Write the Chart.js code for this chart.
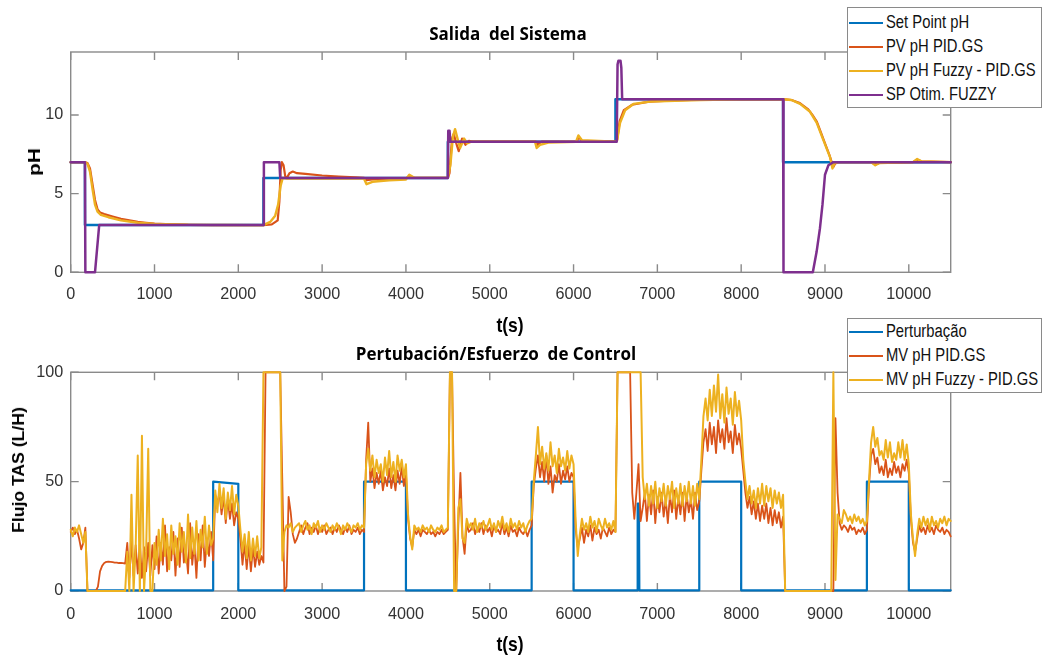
<!DOCTYPE html>
<html>
<head>
<meta charset="utf-8">
<script src="https://cdn.jsdelivr.net/npm/chart.js@4.4.1/dist/chart.umd.min.js"></script>
<style>
  html, body { margin: 0; padding: 0; background: #fff; }
  #wrap { position: relative; width: 1046px; height: 657px; overflow: hidden; background: #fff; }
  canvas { position: absolute; left: 0; }
  .txt { position: absolute; white-space: pre; line-height: 1; color: #000; }
  .title { font-family: 'Open Sans', sans-serif; font-weight: 700; font-size: 17px; }
  .axlab { font-family: 'Liberation Sans', Arial, sans-serif; font-weight: 700; }
  .legend { position: absolute; box-sizing: border-box; border: 1px solid #8a8a8a; background: #fff;
            font-family: 'Liberation Sans', Arial, sans-serif; font-size: 14.8px; color: #111; }
  .legend .row { position: absolute; left: 0; height: 0; }
  .legend .ln { position: absolute; left: 1px; width: 34px; height: 2px; top: -1px; }
  .legend .lt { position: absolute; left: 38px; top: 0; transform: translateY(-50%) scaleY(1.18); white-space: pre; line-height: 1; }
</style>
</head>
<body>
<div id="wrap">
  <canvas id="c1" width="1046" height="330" style="top:0px"></canvas>
  <canvas id="c2" width="1046" height="327" style="top:330px"></canvas>

  <div class="txt title" style="left:508px;top:33px;transform:translate(-50%,-50%)">Salida  del Sistema</div>
  <div class="txt title" style="left:496px;top:353px;transform:translate(-50%,-50%)">Pertubación/Esfuerzo  de Control</div>

  <div class="txt axlab" style="left:510px;top:326px;font-size:17.5px;transform:translate(-50%,-50%) scaleY(1.15)">t(s)</div>
  <div class="txt axlab" style="left:510px;top:645px;font-size:17.5px;transform:translate(-50%,-50%) scaleY(1.15)">t(s)</div>
  <div class="txt axlab" style="left:35px;top:162px;font-size:16px;transform:translate(-50%,-50%) rotate(-90deg) scaleX(1.3)">pH</div>
  <div class="txt axlab" style="left:19px;top:470px;font-size:16px;transform:translate(-50%,-50%) rotate(-90deg) scaleX(1.1)">Flujo TAS (L/H)</div>

  <div id="leg1" class="legend" style="left:847px;top:7px;width:195px;height:101px"></div>
  <div id="leg2" class="legend" style="left:847px;top:318px;width:195px;height:75px"></div>
</div>

<script>
// ---------------- Axis ticks ----------------
const xTickValues = [0, 1000, 2000, 3000, 4000, 5000, 6000, 7000, 8000, 9000, 10000];
const phTickValues = [0, 5, 10];
const flowTickValues = [0, 50, 100];

// ---------------- Top plot: pH ----------------
const spTime  = [0, 170, 170, 2300, 2300, 4500, 4500, 6500, 6500, 8500, 8500, 10500];
const spValue = [7, 7, 3, 3, 6, 6, 8.3, 8.3, 11, 11, 7, 7];

const pvPidTime = [0,170,200,230,260,290,320,350,400,500,600,700,800,900,1000,1200,1400,1700,2300,2400,
  2470,2490,2505,2520,2540,2560,2580,2610,2650,2700,2800,3000,3200,3400,3500,3530,3600,3800,4000,4050,
  4100,4500,4520,4550,4570,4600,4630,4670,4710,4750,4800,5550,5570,5620,6040,6060,6100,6500,6520,6550,
  6600,6700,6900,7200,7600,8500,8600,8700,8800,8850,8900,8950,9000,9050,9080,9100,9120,9150,9550,9600,
  9650,10050,10100,10150,10500];
const pvPidValue = [7,7,6.95,6.6,5.6,4.6,4.0,3.8,3.7,3.55,3.4,3.3,3.2,3.15,3.1,3.05,3.02,3.0,3.0,3.05,
  3.3,4.5,6.5,7.0,6.8,6.1,6.0,6.3,6.4,6.3,6.25,6.15,6.08,6.03,6.0,5.85,5.9,5.95,5.98,6.1,
  6.0,6.0,6.3,8.5,8.8,8.2,7.7,8.5,8.1,8.35,8.3,8.3,8.1,8.3,8.3,8.6,8.35,8.3,8.4,9.6,
  10.3,10.65,10.85,10.93,10.98,11,10.95,10.75,10.35,10.0,9.6,8.9,8.2,7.5,7.0,6.7,6.9,7.0,7.0,6.85,
  6.95,7.0,7.15,7.05,7.0];

const pvFuzzyTime = [0,170,200,230,260,290,320,360,450,600,800,1000,1400,2300,2380,2440,2475,2505,2530,2580,
  3500,3530,3600,3800,4000,4040,4100,4500,4530,4560,4586,4620,4646,4694,4730,4780,5540,5560,5600,5700,
  6030,6058,6100,6500,6520,6555,6615,6714,6913,7510,8000,8500,8600,8703,8822,8902,8981,9061,9090,9110,
  9150,9550,9600,9650,10050,10100,10150,10500];
const pvFuzzyValue = [7,7,6.9,6.4,5.3,4.3,3.85,3.65,3.5,3.3,3.15,3.08,3.02,3.0,3.2,3.6,4.3,5.5,6.0,5.95,
  5.95,5.6,5.75,5.85,5.9,6.2,6.0,6.0,6.8,8.6,9.1,8.4,7.9,8.5,8.2,8.3,8.3,7.9,8.1,8.25,
  8.3,8.7,8.4,8.3,8.4,9.5,10.3,10.7,10.85,10.95,11.0,11.0,10.95,10.7,10.2,9.5,8.4,7.3,6.6,6.9,
  7.0,7.0,6.8,6.95,7.0,7.2,7.05,7.0];

const spOtimTime  = [0,170,175,290,340,2300,2305,2490,2500,4500,4505,4520,4530,6515,6525,6535,6560,6570,6580,
  8500,8505,8855,8900,8940,8970,9000,9040,9100,10500];
const spOtimValue = [7,7,0,0,3,3,7,7,6,6,9,9,8.3,8.3,13.2,13.45,13.45,13.0,11,
  11,0,0,1.3,2.8,4.3,6.2,6.8,7,7];

// ---------------- Bottom plot: flow ----------------
const pertTime  = [0,1700,1700,2000,2000,3500,3500,4000,4000,5500,5500,6000,6000,6760,6765,6780,6785,
  7500,7500,8000,8000,9500,9500,10000,10000,10500];
const pertValue = [0.3,0.3,50,49,0.3,0.3,50,50,0.3,0.3,50,50,0.3,0.3,40,40,0.3,
  0.3,50,50,0.3,0.3,50,50,0.3,0.3];

// MV samples every 25 s, from t = 0 to t = 10500 (rows of 250 s)
const mvSampleStep = 25;
const mvPid = [
  27, 29, 26, 28, 24, 19, 22, 29, 0, 0,              // 0
  0, 0, 0, 2, 9, 11.5, 12.8, 13.3, 13.4, 13.3,       // 250
  13.2, 13, 13, 12.8, 12.8, 12.7, 12.5, 22, 6, 23,   // 500
  7, 21, 8, 22, 6, 20, 9, 22, 7, 21,                 // 750
  10, 25, 8, 22, 12, 30, 9, 20, 14, 27,              // 1000
  7, 24, 11, 29, 13, 19, 8, 31, 12, 22,              // 1250
  6, 26, 14, 30, 11, 24, 16, 27, 14, 44,             // 1500
  40, 45, 35, 43, 31, 42, 33, 40, 30, 36,            // 1750
  33, 24, 12, 22, 10, 21, 9, 20, 11, 18,             // 2000
  12, 16, 13, 100, 100, 100, 100, 100, 100, 100,     // 2250
  100, 50, 0, 2, 43, 36, 26, 22, 24, 27,             // 2500
  30, 26, 29, 31, 26, 29, 27, 30, 26, 29,            // 2750
  27, 30, 26, 28, 29, 26, 29, 27, 30, 28,            // 3000
  26, 29, 27, 30, 26, 28, 27, 29, 26, 28,            // 3250
  27, 60, 77, 50, 56, 47, 54, 49, 55, 46,            // 3500
  52, 48, 56, 47, 53, 46, 55, 49, 57, 48,            // 3750
  54, 33, 24, 20, 28, 26, 28, 25, 28, 27,            // 4000
  26, 28, 26, 27, 25, 27, 26, 28, 26, 27,            // 4250
  28, 100, 100, 40, 0, 30, 54, 25, 17, 31,           // 4500
  27, 28, 31, 26, 29, 27, 31, 26, 30, 27,            // 4750
  29, 25, 30, 27, 28, 26, 31, 26, 29, 25,            // 5000
  30, 27, 28, 25, 29, 27, 26, 28, 25, 28,            // 5250
  30, 48, 56, 62, 52, 59, 50, 62, 49, 57,            // 5500
  45, 53, 50, 58, 49, 55, 51, 57, 50, 54,            // 5750
  52, 28, 20, 24, 29, 22, 28, 25, 30, 23,            // 6000
  29, 26, 28, 24, 29, 27, 25, 29, 26, 28,            // 6250
  27, 100, 100, 100, 100, 100, 100, 100, 45, 33,     // 6500
  45, 58, 32, 38, 45, 32, 44, 35, 46, 31,            // 6750
  43, 36, 45, 34, 42, 31, 44, 36, 46, 33,            // 7000
  43, 35, 45, 32, 44, 36, 42, 33, 45, 37,            // 7250
  41, 55, 68, 74, 64, 77, 67, 75, 63, 78,            // 7500
  68, 74, 65, 79, 68, 73, 63, 76, 67, 72,            // 7750
  65, 55, 45, 38, 43, 35, 41, 33, 40, 32,            // 8000
  39, 33, 40, 31, 38, 30, 37, 31, 36, 29,            // 8250
  34, 0, 0, 0, 0, 0, 0, 0, 0, 0,                     // 8500
  0, 0, 0, 0, 0, 0, 0, 0, 0, 0,                      // 8750
  0, 0, 0, 0, 0, 79, 45, 31, 28, 30,                 // 9000
  29, 27, 30, 28, 29, 26, 28, 27, 29, 26,            // 9250
  28, 48, 62, 65, 58, 61, 54, 57, 53, 60,            // 9500
  52, 56, 53, 59, 54, 57, 52, 58, 55, 60,            // 9750
  54, 33, 22, 18, 24, 30, 27, 29, 26, 30,            // 10000
  27, 29, 26, 30, 28, 27, 29, 26, 28, 27,            // 10250
  25                                                 // 10500
];
const mvFuzzy = [
  28, 25, 29, 27, 30, 26, 22, 27, 0, 0,              // 0
  0, 0, 0, 0, 0, 0, 0, 0, 0, 0,                      // 250
  0, 0, 0, 0, 0, 0, 0, 18, 0, 44,                    // 500
  0, 20, 62, 0, 71, 0, 18, 65, 0, 0,                 // 750
  22, 12, 28, 14, 33, 16, 26, 10, 30, 17,            // 1000
  25, 12, 31, 18, 27, 13, 35, 15, 29, 17,            // 1250
  32, 14, 28, 20, 34, 17, 30, 21, 24, 46,            // 1500
  36, 49, 38, 47, 33, 45, 37, 48, 35, 44,            // 1750
  39, 28, 18, 26, 15, 27, 14, 24, 16, 25,            // 2000
  15, 20, 100, 100, 100, 100, 100, 100, 100, 100,    // 2250
  100, 14, 27, 30, 29, 31, 27, 29, 30, 31,           // 2500
  27, 30, 32, 28, 30, 26, 31, 29, 32, 27,            // 2750
  30, 28, 31, 29, 27, 30, 28, 31, 29, 26,            // 3000
  30, 28, 31, 29, 27, 30, 29, 31, 28, 30,            // 3250
  29, 58, 65, 55, 62, 52, 60, 54, 58, 50,            // 3500
  61, 53, 64, 52, 59, 50, 62, 55, 60, 52,            // 3750
  58, 35, 25, 19, 30, 28, 29, 27, 30, 28,            // 4000
  29, 27, 30, 28, 27, 29, 28, 30, 27, 28,            // 4250
  29, 100, 100, 0, 0, 38, 42, 24, 22, 33,            // 4500
  29, 31, 28, 33, 27, 31, 29, 32, 28, 30,            // 4750
  33, 28, 31, 27, 32, 29, 34, 28, 31, 27,            // 5000
  33, 29, 31, 28, 32, 29, 31, 27, 30, 32,            // 5250
  33, 50, 62, 75, 58, 66, 56, 63, 55, 68,            // 5500
  57, 62, 54, 65, 57, 61, 55, 64, 56, 62,            // 5750
  58, 32, 16, 26, 33, 28, 31, 27, 34, 29,            // 6000
  32, 27, 33, 30, 28, 33, 29, 31, 28, 32,            // 6250
  27, 100, 100, 100, 100, 100, 100, 100, 100, 100,   // 6500
  100, 100, 100, 52, 42, 49, 39, 48, 40, 50,         // 6750
  38, 47, 41, 49, 39, 48, 42, 50, 38, 47,            // 7000
  40, 49, 39, 48, 41, 50, 40, 48, 39, 49,            // 7250
  42, 60, 80, 88, 78, 92, 80, 94, 82, 99,            // 7500
  79, 90, 77, 93, 81, 88, 76, 91, 80, 87,            // 7750
  78, 60, 50, 42, 48, 40, 46, 38, 47, 40,            // 8000
  49, 39, 48, 41, 47, 38, 46, 40, 45, 38,            // 8250
  44, 0, 0, 0, 0, 0, 0, 0, 0, 0,                     // 8500
  0, 0, 0, 0, 0, 0, 0, 0, 0, 0,                      // 8750
  0, 0, 0, 0, 100, 5, 35, 33, 31, 37,                // 9000
  35, 32, 34, 31, 35, 32, 34, 31, 33, 30,            // 9250
  32, 50, 68, 75, 66, 70, 62, 64, 60, 69,            // 9500
  61, 68, 59, 63, 60, 68, 61, 69, 60, 67,            // 9750
  58, 35, 24, 16, 26, 33, 29, 34, 30, 33,            // 10000
  28, 34, 30, 32, 29, 33, 31, 34, 30, 33,            // 10250
  32                                                 // 10500
];

// ---------------- Styling / layout ----------------
const COLORS = { blue: '#0072BD', red: '#D95319', yellow: '#EDB120', purple: '#7E2F8E' };
const PLOT_LEFT = 70.7, PLOT_RIGHT = 950.7, CANVAS_W = 1046;

function fontAvailable(name) {
  const c = document.createElement('canvas').getContext('2d');
  const s = 'mmmmmmmmmmlliiWW1000050';
  c.font = '40px monospace';
  const w1 = c.measureText(s).width;
  c.font = "40px '" + name + "', monospace";
  const w2 = c.measureText(s).width;
  return Math.abs(w1 - w2) > 0.5;
}
const hasNarrow = fontAvailable('Liberation Sans Narrow');
const tickFont = hasNarrow
  ? { family: "'Liberation Sans Narrow'", size: 19.5 }
  : { family: "'Liberation Sans', Arial, sans-serif", size: 16.2 };
const tickHalfLine = tickFont.size * 1.2 / 2;

function pts(ts, vs) { return ts.map((t, i) => ({ x: t, y: vs[i] })); }
function mvPts(vs) { return vs.map((v, i) => ({ x: i * mvSampleStep, y: v })); }

const framePlugin = {
  id: 'frame',
  beforeDatasetsDraw(chart) {
    const { ctx, chartArea: a, scales: { x, y } } = chart;
    ctx.save();
    ctx.strokeStyle = '#8a8a8a';
    ctx.lineWidth = 1.4;
    ctx.strokeRect(a.left, a.top, a.right - a.left, a.bottom - a.top);
    const L = 8;
    ctx.beginPath();
    x.ticks.forEach(t => {
      const px = x.getPixelForValue(t.value);
      ctx.moveTo(px, a.bottom); ctx.lineTo(px, a.bottom - L);
      ctx.moveTo(px, a.top); ctx.lineTo(px, a.top + L);
    });
    y.ticks.forEach(t => {
      const py = y.getPixelForValue(t.value);
      ctx.moveTo(a.left, py); ctx.lineTo(a.left + L, py);
      ctx.moveTo(a.right, py); ctx.lineTo(a.right - L, py);
    });
    ctx.stroke();
    ctx.restore();
  }
};

function makeChart(id, datasets, yMax, yTicks, padTop, xAxisH, labelCenterOffset) {
  return new Chart(document.getElementById(id), {
    type: 'line',
    data: { datasets },
    options: {
      responsive: false, animation: false, events: [],
      layout: { padding: { left: 0, right: CANVAS_W - PLOT_RIGHT, top: padTop, bottom: 0 } },
      plugins: { legend: { display: false }, tooltip: { enabled: false } },
      elements: { point: { radius: 0 }, line: { tension: 0, borderJoinStyle: 'round', borderCapStyle: 'round' } },
      scales: {
        x: {
          type: 'linear', min: 0, max: 10500,
          grid: { display: false, drawTicks: false }, border: { display: false },
          afterFit: s => { s.height = xAxisH; },
          afterBuildTicks: s => { s.ticks = xTickValues.map(v => ({ value: v })); },
          ticks: { padding: labelCenterOffset - tickHalfLine, font: tickFont, color: '#333',
                   maxRotation: 0, autoSkip: false, callback: v => String(v) }
        },
        y: {
          type: 'linear', min: 0, max: yMax,
          grid: { display: false, drawTicks: false }, border: { display: false },
          afterFit: s => { s.width = PLOT_LEFT; },
          afterBuildTicks: s => { s.ticks = yTicks.map(v => ({ value: v })); },
          ticks: { padding: 7.5, font: tickFont, color: '#333', autoSkip: false, callback: v => String(v) }
        }
      }
    },
    plugins: [framePlugin]
  });
}

const ds = (label, data, color, width, order) => ({
  label, data, borderColor: color, backgroundColor: color, borderWidth: width,
  fill: false, clip: false, order, pointRadius: 0
});

const topSets = [
  ds('Set Point pH', pts(spTime, spValue), COLORS.blue, 2.5, 3),
  ds('PV pH PID.GS', pts(pvPidTime, pvPidValue), COLORS.red, 2.2, 2),
  ds('PV pH Fuzzy - PID.GS', pts(pvFuzzyTime, pvFuzzyValue), COLORS.yellow, 2.4, 1),
  ds('SP Otim. FUZZY', pts(spOtimTime, spOtimValue), COLORS.purple, 2.5, 0)
];
const bottomSets = [
  ds('Perturbação', pts(pertTime, pertValue), COLORS.blue, 2.2, 2),
  ds('MV pH PID.GS', mvPts(mvPid), COLORS.red, 1.8, 1),
  ds('MV pH Fuzzy - PID.GS', mvPts(mvFuzzy), COLORS.yellow, 2.0, 0)
];

makeChart('c1', topSets, 14, phTickValues, 52, 330 - 272.3, 22.2);
makeChart('c2', bottomSets, 100, flowTickValues, 42.3, 327 - 261, 23.5);

// ---------------- HTML legends ----------------
function buildLegend(el, datasets, rowYs) {
  datasets.forEach((d, i) => {
    const row = document.createElement('div');
    row.className = 'row';
    row.style.top = rowYs[i] + 'px';
    const ln = document.createElement('div');
    ln.className = 'ln';
    ln.style.background = d.borderColor;
    const lt = document.createElement('div');
    lt.className = 'lt';
    lt.textContent = d.label;
    row.appendChild(ln); row.appendChild(lt);
    el.appendChild(row);
  });
}
buildLegend(document.getElementById('leg1'), topSets, [15.3, 38.7, 63, 87]);
buildLegend(document.getElementById('leg2'), bottomSets, [13, 37, 61]);
</script>
</body>
</html>
